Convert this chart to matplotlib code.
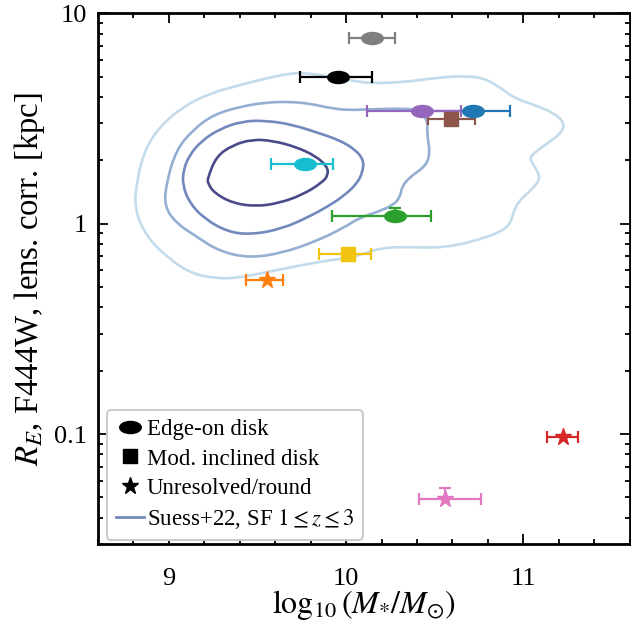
import numpy as np
import matplotlib
matplotlib.use("Agg")
import matplotlib.pyplot as plt
from matplotlib.path import Path
from matplotlib.patches import PathPatch
from matplotlib.lines import Line2D
from matplotlib.ticker import MultipleLocator, FixedLocator, FixedFormatter

plt.rcParams["font.family"] = "serif"
plt.rcParams["font.serif"] = ["Liberation Serif", "DejaVu Serif"]
plt.rcParams["mathtext.fontset"] = "stix"

# galaxies: log stellar mass, effective radius [kpc]
colors = ["C0", "C1", "C2", "C3", "C4", "C5", "C6", "C7", "#f1c40f", "C9", "k"]
shapes = ["edge", "star", "edge", "star", "edge", "square", "star", "edge", "square", "edge", "edge"]
logm = [10.714, 9.553, 10.278, 11.222, 10.428, 10.59, 10.557, 10.145, 10.013, 9.769, 9.957]
logm_lo = [0.27, 0.118, 0.36, 0.088, 0.31, 0.13, 0.147, 0.13, 0.166, 0.19, 0.217]
logm_hi = [0.21, 0.094, 0.20, 0.085, 0.22, 0.135, 0.205, 0.13, 0.128, 0.16, 0.19]
re = [3.44, 0.543, 1.083, 0.097, 3.43, 3.15, 0.049, 7.61, 0.717, 1.925, 5.0]
re_lo = [0, 0, 0, 0, 0, 0, 0, 0, 0, 0, 0]
re_hi = [0, 0, 0.104, 0, 0, 0, 0.0062, 0, 0, 0, 0]

# Suess+22 SF 1<z<3 contours (log mass, log10 R_E)
c1_x = [9.22, 9.267, 9.36, 9.472, 9.585, 9.716, 9.829, 9.894, 9.899, 9.866, 9.753, 9.622, 9.492, 9.36, 9.257, 9.22]
c1_y = [0.217, 0.319, 0.374, 0.401, 0.395, 0.366, 0.322, 0.272, 0.232, 0.196, 0.137, 0.098, 0.082, 0.098, 0.146, 0.193]
c2_x = [9.847, 9.96, 10.049, 10.10, 10.094, 10.061, 9.988, 9.903, 9.791, 9.639, 9.465, 9.33, 9.201, 9.117,
        9.078, 9.083, 9.117, 9.184, 9.285, 9.415, 9.549, 9.696]
c2_y = [0.431, 0.398, 0.355, 0.303, 0.246, 0.190, 0.133, 0.085, 0.033, -0.024, -0.052, -0.038, 0.024, 0.0995,
        0.185, 0.256, 0.327, 0.393, 0.450, 0.488, 0.4905, 0.4716]
c3_x = [8.976, 8.986, 9.042, 9.135, 9.248, 9.398, 9.548, 9.679, 9.791, 9.922, 10.016, 10.128, 10.334, 10.409,
        10.461, 10.456, 10.475, 10.447, 10.362, 10.315, 10.306, 10.269, 10.184, 10.072, 9.988, 9.829, 9.641,
        9.454, 9.285, 9.154, 9.042]
c3_y = [0.082, 0.193, 0.351, 0.445, 0.517, 0.556, 0.577, 0.580, 0.572, 0.548, 0.540, 0.544, 0.548, 0.540,
        0.493, 0.430, 0.335, 0.272, 0.224, 0.177, 0.129, 0.090, 0.058, 0.027, -0.019, -0.084, -0.139,
        -0.163, -0.131, -0.060, 0.003]
c4_x = [8.808, 8.817, 8.864, 8.948, 9.079, 9.229, 9.398, 9.548, 9.679, 9.753, 9.875, 10.016, 10.147, 10.334,
        10.521, 10.671, 10.784, 10.877, 10.952, 11.065, 11.177, 11.233, 11.214, 11.121, 11.046, 11.037, 11.083,
        11.093, 11.046, 10.971, 10.943, 10.924, 10.858, 10.746, 10.615, 10.484, 10.334, 10.203, 10.11, 10.016,
        9.922, 9.735, 9.548, 9.398, 9.267, 9.117, 8.986, 8.874]
c4_y = [0.066, 0.193, 0.351, 0.461, 0.556, 0.619, 0.659, 0.691, 0.714, 0.717, 0.706, 0.682, 0.667, 0.674,
        0.695, 0.703, 0.691, 0.643, 0.596, 0.564, 0.525, 0.477, 0.430, 0.374, 0.327, 0.303, 0.248, 0.2085,
        0.161, 0.106, 0.051, -0.005, -0.044, -0.076, -0.104, -0.115, -0.110, -0.115, -0.139, -0.163, -0.171,
        -0.199, -0.231, -0.257, -0.261, -0.234, -0.155, -0.060]
contours = [(c4_x, c4_y), (c3_x, c3_y), (c2_x, c2_y), (c1_x, c1_y)]
contour_colors = ["#c3dbea", "#94afd3", "#7289bd", "#4a4a8a"]


def smooth_closed_path(xs, ys):
    # closed quadratic bezier through the midpoints, read points as controls
    xs = np.asarray(xs)
    ys = np.asarray(ys)
    n = len(xs)
    verts = []
    codes = []
    mx = (xs + np.roll(xs, -1)) / 2
    my = (ys + np.roll(ys, -1)) / 2
    verts.append((mx[-1], 10 ** my[-1]))
    codes.append(Path.MOVETO)
    for i in range(n):
        verts.append((xs[i], 10 ** ys[i]))
        verts.append((mx[i], 10 ** my[i]))
        codes += [Path.CURVE3, Path.CURVE3]
    return Path(verts, codes)


# ellipse marker for edge-on disks
circ = Path.unit_circle()
ell = Path(circ.vertices * np.array([1.0, 0.56]), circ.codes)
markers = {"edge": (ell, 15.5), "square": ("s", 10.5), "star": ("*", 12.5)}

fig = plt.figure(figsize=(6.31, 6.22), dpi=100)
ax = fig.add_axes([0.155, 0.1254, 0.843, 0.853])

for (cx, cy), col in zip(contours, contour_colors):
    ax.add_patch(PathPatch(smooth_closed_path(cx, cy), fill=False, edgecolor=col, lw=1.9,
                           joinstyle="round", zorder=1))

for i in range(len(logm)):
    yerr = None
    if re_lo[i] > 0 or re_hi[i] > 0:
        yerr = [[re_lo[i]], [re_hi[i]]]
    ax.errorbar([logm[i]], [re[i]], xerr=[[logm_lo[i]], [logm_hi[i]]], yerr=yerr, fmt="none",
                ecolor=colors[i], elinewidth=1.6, capsize=4, capthick=1.6, zorder=2)
for i in range(len(logm)):
    m, ms = markers[shapes[i]]
    ax.plot([logm[i]], [re[i]], linestyle="none", marker=m, ms=ms, color=colors[i],
            mec=colors[i], mew=1, zorder=3)

ax.set_yscale("log")
ax.set_xlim(8.6, 11.6)
ax.set_ylim(0.03, 10)
ax.xaxis.set_major_locator(MultipleLocator(1))
ax.xaxis.set_minor_locator(MultipleLocator(0.2))
ax.yaxis.set_major_locator(FixedLocator([0.1, 1, 10]))
ax.yaxis.set_major_formatter(FixedFormatter(["0.1", "1", "10"]))

ax.tick_params(which="both", direction="in", top=True, right=True, width=1.3, labelsize=19)
ax.tick_params(axis="x", pad=17)
ax.tick_params(axis="y", pad=8)
ax.tick_params(which="major", length=7)
ax.tick_params(which="minor", length=3.5)
for sp in ax.spines.values():
    sp.set_linewidth(2)

ax.set_xlabel(r"$\log_{10}(M_{*}/M_{\odot})$", fontsize=23, labelpad=-1)
ax.set_ylabel(r"$R_E$, F444W, lens. corr. [kpc]", fontsize=23.6, labelpad=5)

handles = [
    Line2D([], [], linestyle="none", marker=ell, ms=15.5, color="k"),
    Line2D([], [], linestyle="none", marker="s", ms=10.5, color="k"),
    Line2D([], [], linestyle="none", marker="*", ms=12.5, color="k"),
    Line2D([], [], color="#7289bd", lw=2),
]
labels = ["Edge-on disk", "Mod. inclined disk", "Unresolved/round", r"Suess+22, SF $1\leq z\leq 3$"]
leg = ax.legend(handles, labels, loc="lower left", bbox_to_anchor=(0.017, 0.008), borderaxespad=0,
                fontsize=16.5, frameon=True, fancybox=True, framealpha=1, edgecolor="#cccccc",
                borderpad=0.4, labelspacing=0.35, handlelength=1.2, handletextpad=0.15)
leg.get_frame().set_linewidth(1.5)

fig.savefig("out.png", dpi=100)
